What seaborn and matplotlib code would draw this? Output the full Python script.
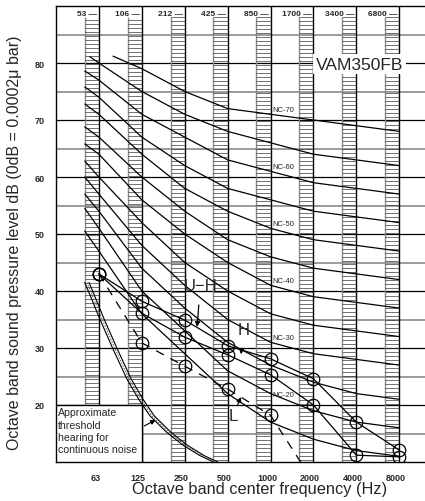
import numpy as np
import pandas as pd
import seaborn as sns
import matplotlib.pyplot as plt
from matplotlib.patches import Rectangle

# Octave band centre frequencies and the band edges printed along the top
bands = ['63', '125', '250', '500', '1000', '2000', '4000', '8000']
band_edges = ['53', '106', '212', '425', '850', '1700', '3400', '6800']

# NC curves, dB at 63 ... 8000 Hz
nc_names = ['NC-70', 'NC-65', 'NC-60', 'NC-55', 'NC-50', 'NC-45',
            'NC-40', 'NC-35', 'NC-30', 'NC-25', 'NC-20', 'NC-15']
nc70 = [83, 79, 75, 72, 71, 70, 69, 68]
nc65 = [80, 75, 71, 68, 66, 64, 63, 62]
nc60 = [77, 71, 67, 63, 61, 59, 58, 57]
nc55 = [74, 67, 62, 58, 56, 54, 53, 52]
nc50 = [71, 64, 58, 54, 51, 49, 48, 47]
nc45 = [67, 60, 54, 49, 46, 44, 43, 42]
nc40 = [64, 56, 50, 45, 41, 39, 38, 37]
nc35 = [60, 52, 45, 40, 36, 34, 33, 32]
nc30 = [57, 48, 41, 35, 31, 29, 28, 27]
nc25 = [54, 44, 37, 31, 27, 24, 22, 21]
nc20 = [51, 40, 33, 26, 22, 19, 17, 16]
nc15 = [47, 36, 29, 22, 17, 14, 12, 11]
# where each NC curve starts on the left (octaves from 63 Hz, dB)
nc_start_oct = [0.33, -0.21, -0.33, -0.33, -0.33, -0.33,
                -0.33, -0.33, -0.33, -0.33, -0.33, -0.33]
nc_start_db = [81.2, 81.1, 78.6, 75.8, 72.8, 68.8,
               65.8, 62.8, 60.0, 57.0, 54.5, 50.5]
nc_labelled = ['NC-70', 'NC-60', 'NC-50', 'NC-40', 'NC-30', 'NC-20']

# measured unit (dB per band)
uh_db = [43.0, 38.2, 34.9, 30.4, 28.1, 24.6, 17.0, 12.1]
h_db = [43.0, 36.1, 31.9, 28.8, 25.3, 20.0, 11.2, 10.9]
l_db = [43.0, 30.9, 26.8, 22.8, 18.2, 6.5]

# approximate threshold of hearing
thr_oct = [-0.33, -0.17, 0.02, 0.33, 0.65, 0.92, 1.19, 1.58, 1.97, 2.36, 2.67]
thr_db = [41.5, 38.6, 35.1, 29.8, 24.6, 21.1, 18.1, 15.2, 12.9, 11.1, 10.0]

sns.set_style('white')
plt.rcParams['font.family'] = ['Liberation Sans', 'DejaVu Sans']

fig = plt.figure(figsize=(4.25, 5.02), dpi=100)
ax = fig.add_axes([56 / 425, 1 - 463 / 502, 369 / 425, 456 / 502])
ax.set_xlim(-1.0, 7.6)
ax.set_ylim(10, 90)

# grid: black every 10 dB, grey at the 5s
for v in range(15, 90, 5):
    ax.axhline(v, color='black' if v % 10 == 0 else '#8a8a8a',
               lw=0.9 if v % 10 == 0 else 1.2, zorder=1)
pos = np.arange(len(bands))
for i in pos:
    ax.axvline(i, color='black', lw=1.0, zorder=1)

# ladders left of every band line
ladder_w = 0.33
for i in pos:
    lo = 20 if i < 2 else 10
    ax.vlines(i - ladder_w, lo, 88, color='#8a8a8a', lw=1.0, zorder=1.5)
    rungs = np.arange(lo + 0.35, 88.2, 0.7)
    ax.hlines(rungs, i - ladder_w, i, color='#3a3a3a', lw=0.5, zorder=1.5)
    ax.text(i - 0.05, 88.6, band_edges[i] + ' \u2014', ha='right', va='center',
            fontsize=6, fontweight='bold')

# NC curves
nc_all = [nc70, nc65, nc60, nc55, nc50, nc45, nc40, nc35, nc30, nc25, nc20, nc15]
rows = []
for name, vals, so, sd in zip(nc_names, nc_all, nc_start_oct, nc_start_db):
    rows.append((name, so, sd))
    rows += [(name, p, v) for p, v in zip(pos, vals) if p > so]
nc_df = pd.DataFrame(rows, columns=['curve', 'oct', 'db'])
sns.lineplot(data=nc_df, x='oct', y='db', units='curve', estimator=None,
             color='black', lw=0.9, sort=False, legend=False, ax=ax, zorder=2)
for name in nc_labelled:
    lvl = int(name.split('-')[1])
    ax.text(4.3, lvl + 1.8, name, ha='center', va='center', fontsize=5.5,
            zorder=2.5)

# text box for the hearing threshold
ax.add_patch(Rectangle((-1.0, 10), 2.0, 10, facecolor='white',
                       edgecolor='black', lw=1.0, zorder=3))
ax.text(-0.96, 19.6, 'Approximate\nthreshold\nhearing for\ncontinuous noise',
        ha='left', va='top', fontsize=7.6, linespacing=1.3, zorder=3.5)

thr = pd.DataFrame({'oct': thr_oct, 'db': thr_db})
sns.lineplot(data=thr, x='oct', y='db', color='black', lw=0.8, sort=False, ax=ax, zorder=4)
sns.lineplot(x=thr['oct'] + 0.1, y=thr['db'], color='black', lw=0.8, sort=False, ax=ax, zorder=4)
sns.lineplot(x=thr['oct'] + 0.05, y=thr['db'], color='#555555', lw=0.7,
             linestyle=(0, (1.5, 1.5)), sort=False, ax=ax, zorder=4)
ax.annotate('', xy=(1.38, 17.6), xytext=(1.0, 16.1),
            arrowprops=dict(arrowstyle='-|>', color='black', lw=0.8,
                            mutation_scale=7), zorder=4)

# measured sound levels
meas = pd.concat([
    pd.DataFrame({'mode': 'U-H', 'oct': pos, 'db': uh_db}),
    pd.DataFrame({'mode': 'H', 'oct': pos, 'db': h_db}),
    pd.DataFrame({'mode': 'L', 'oct': pos[:len(l_db)], 'db': l_db}),
])
sns.lineplot(data=meas, x='oct', y='db', style='mode', units='mode', estimator=None,
             dashes={'U-H': '', 'H': '', 'L': (7, 6)},
             markers={'U-H': 'o', 'H': 'o', 'L': 'o'},
             color='black', lw=0.9, markersize=9, markerfacecolor='none',
             markeredgecolor='black', markeredgewidth=0.9,
             legend=False, ax=ax, zorder=5)

lab_kw = dict(fontsize=12, ha='center', va='center', zorder=6)
arr_kw = dict(arrowstyle='-|>', color='black', lw=0.9, mutation_scale=7)
ax.annotate('U\u2212H', xy=(2.29, 33.7), xytext=(2.36, 40.9),
            arrowprops=dict(arr_kw, shrinkA=6, shrinkB=0), **lab_kw)
ax.annotate('H', xy=(3.31, 28.9), xytext=(3.38, 33.3),
            arrowprops=dict(arr_kw, shrinkA=6, shrinkB=0), **lab_kw)
ax.annotate('L', xy=(3.31, 21.4), xytext=(3.13, 18.2),
            arrowprops=dict(arr_kw, shrinkA=6, shrinkB=0), **lab_kw)

ax.text(6.07, 79.8, 'VAM350FB', ha='center', va='center', fontsize=12.5,
        zorder=6, bbox=dict(facecolor='white', edgecolor='none', pad=2))

# axes, ticks and labels
ax.set_xticks(pos - 0.08)
ax.set_xticklabels(bands, fontsize=6.5, fontweight='bold')
ax.set_yticks(range(20, 90, 10))
ax.set_yticklabels([str(v) for v in range(20, 90, 10)], fontsize=6.5, fontweight='bold')
ax.tick_params(length=0, pad=8)
ax.set_xlabel('')
ax.set_ylabel('')
for s in ['left', 'top', 'bottom']:
    ax.spines[s].set_color('black')
    ax.spines[s].set_linewidth(1.0)
ax.spines['right'].set_visible(False)

fig.text(260 / 425, 1 - 490 / 502, 'Octave band center frequency (Hz)',
         ha='center', va='center', fontsize=11.8)
fig.text(15 / 425, 1 - 243 / 502,
         'Octave band sound pressure level dB (0dB = 0.0002\u03bc bar)',
         ha='center', va='center', rotation=90, fontsize=11.5)

fig.savefig('out.png', dpi=100)
